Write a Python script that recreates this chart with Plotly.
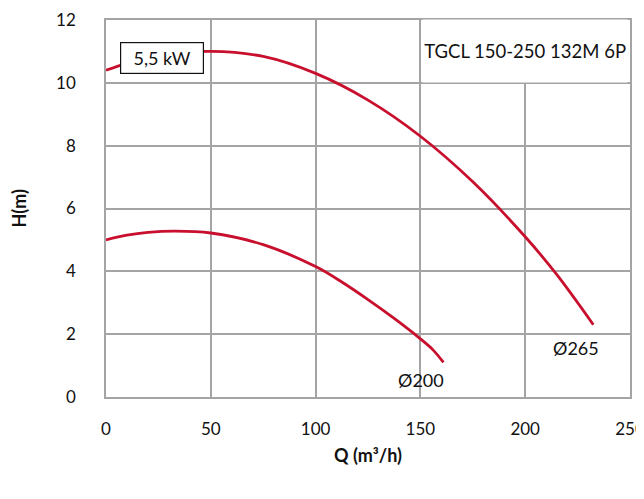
import plotly.graph_objects as go

q265 = [0, 10, 25, 50, 75, 100, 125, 150, 175, 200, 215, 232.5]
h265 = [10.4, 10.62, 10.88, 11.0, 10.84, 10.3, 9.45, 8.3, 6.85, 5.1, 3.9, 2.3]
q200 = [0, 10, 20, 33, 50, 75, 100, 112.5, 125, 137.5, 150, 156, 161]
h200 = [5.0, 5.15, 5.24, 5.28, 5.22, 4.85, 4.15, 3.66, 3.1, 2.5, 1.85, 1.5, 1.1]

x_ticks = [0, 50, 100, 150, 200, 250]
y_ticks = [0, 2, 4, 6, 8, 10, 12]

red = "#C8102E"
grid = "#A4A4A4"
font = "Lato"

fig = go.Figure()
fig.add_trace(go.Scatter(x=q265, y=h265, mode="lines", line=dict(color=red, width=2.8, shape="spline"), hoverinfo="skip"))
fig.add_trace(go.Scatter(x=q200, y=h200, mode="lines", line=dict(color=red, width=2.8, shape="spline"), hoverinfo="skip"))

# page body has an 8px margin, so the figure is sized/offset to compensate
fig.update_layout(
    width=636, height=483,
    margin=dict(l=98, r=14, t=12, b=94),
    paper_bgcolor="white", plot_bgcolor="white",
    showlegend=False,
    font=dict(family=font, size=17, color="#111"),
    xaxis=dict(range=[0, 250], tickvals=x_ticks, showgrid=True, gridcolor=grid, gridwidth=1.5,
               showline=True, linecolor=grid, linewidth=1.5, mirror=True, zeroline=False,
               ticks="", ticklabelstandoff=16, automargin=False, ticklabeloverflow="allow"),
    yaxis=dict(range=[0, 12], tickvals=y_ticks, showgrid=True, gridcolor=grid, gridwidth=1.5,
               showline=True, linecolor=grid, linewidth=1.5, mirror=True, zeroline=False,
               ticks="", ticklabelstandoff=25, automargin=False, ticklabeloverflow="allow"),
)

fig.add_annotation(x=0.5, y=0, xref="paper", yref="paper", yshift=-58, text="<b>Q (m³/h)</b>",
                   showarrow=False, xanchor="center", yanchor="middle", font=dict(size=18))
fig.add_annotation(x=0, y=0.5, xref="paper", yref="paper", xshift=-88, text="<b>H(m)</b>", textangle=-90,
                   showarrow=False, xanchor="center", yanchor="middle", font=dict(size=18))

fig.add_annotation(x=249.2, y=11, xref="x", yref="y", text="TGCL 150-250 132M 6P", showarrow=False,
                   xanchor="right", yanchor="middle", width=202, height=60, align="right",
                   bgcolor="white", font=dict(size=18.5))
fig.add_annotation(x=26.5, y=10.8, xref="x", yref="y", text="5,5 kW", showarrow=False,
                   xanchor="center", yanchor="middle", width=78, height=26,
                   bgcolor="white", bordercolor="#111", borderwidth=1.2, borderpad=2, font=dict(size=18))
fig.add_annotation(x=150.5, y=0.55, xref="x", yref="y", text="Ø200", showarrow=False, font=dict(size=18))
fig.add_annotation(x=224, y=1.55, xref="x", yref="y", text="Ø265", showarrow=False, font=dict(size=18))

fig.write_html("out.html")
